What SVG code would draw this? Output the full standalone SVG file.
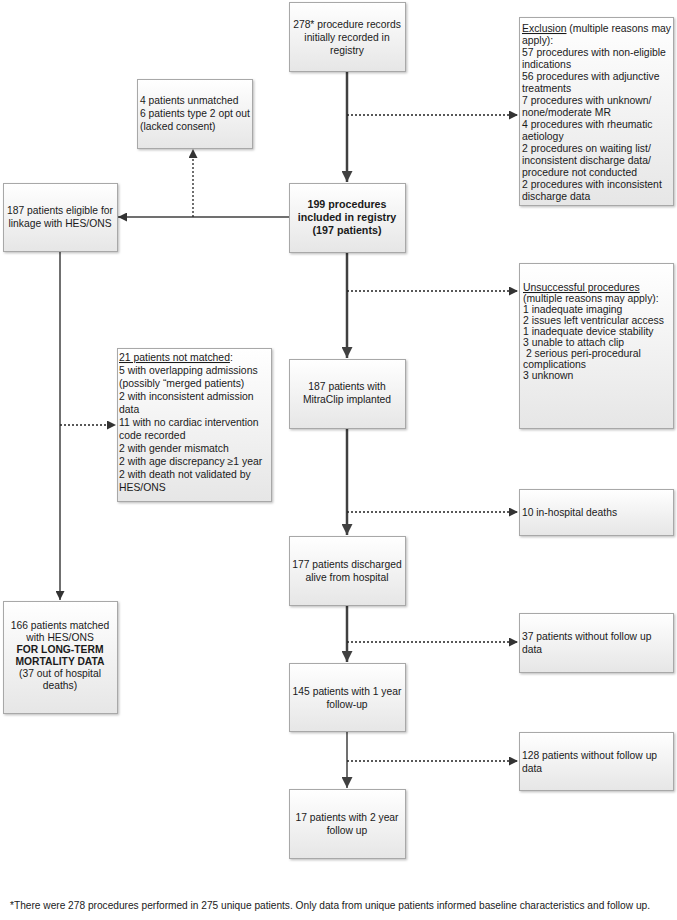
<svg xmlns="http://www.w3.org/2000/svg" width="677" height="920" viewBox="0 0 677 920">
<defs>
<linearGradient id="g" x1="0" y1="0" x2="0" y2="1">
<stop offset="0" stop-color="#ffffff"/>
<stop offset="1" stop-color="#e6e6e6"/>
</linearGradient>
<filter id="sh" x="-10%" y="-10%" width="130%" height="130%">
<feDropShadow dx="1.2" dy="1.2" stdDeviation="0.8" flood-color="#000" flood-opacity="0.25"/>
</filter>
<marker id="ah" viewBox="0 0 10 10" refX="10" refY="5" markerWidth="9" markerHeight="9" markerUnits="userSpaceOnUse" orient="auto">
<path d="M0,0 L10,5 L0,10 z" fill="#333"/>
</marker>
<marker id="ah2" viewBox="0 0 10 10" refX="10" refY="5" markerWidth="11" markerHeight="11" markerUnits="userSpaceOnUse" orient="auto">
<path d="M0,0 L10,5 L0,10 z" fill="#404040"/>
</marker>
<style>
.box{fill:url(#g);stroke:#a8a8a8;stroke-width:1;filter:url(#sh);}
text{font-family:"Liberation Sans",Arial,sans-serif;font-size:10.3px;fill:#1a1a1a;}
.s{font-size:10.4px;}
.c{text-anchor:middle;}
.b{font-weight:bold;}
.b2{font-weight:bold;font-size:10.7px;}
.u{text-decoration:underline;}
.main{stroke:#404040;stroke-width:2.5;fill:none;}
.thin{stroke:#404040;stroke-width:1.5;fill:none;}
.dash{stroke:#222;stroke-width:1.3;stroke-dasharray:2,2;fill:none;}
</style>
</defs>

<g id="connectors">
<line class="main" x1="347" y1="71" x2="347" y2="182" marker-end="url(#ah2)"/>
<line class="dash" x1="347" y1="115" x2="518" y2="115" marker-end="url(#ah)"/>
<line class="thin" x1="289" y1="217" x2="118" y2="217" marker-end="url(#ah)"/>
<line class="dash" x1="193" y1="217" x2="193" y2="149" marker-end="url(#ah)"/>
<line class="main" x1="347" y1="252" x2="347" y2="358" marker-end="url(#ah2)"/>
<line class="dash" x1="347" y1="291" x2="518" y2="291" marker-end="url(#ah)"/>
<line class="thin" x1="60" y1="251" x2="60" y2="600" marker-end="url(#ah)"/>
<line class="dash" x1="60" y1="425" x2="116" y2="425" marker-end="url(#ah)"/>
<line class="main" x1="347" y1="428" x2="347" y2="535" marker-end="url(#ah2)"/>
<line class="dash" x1="347" y1="512" x2="518" y2="512" marker-end="url(#ah)"/>
<line class="main" x1="347" y1="605" x2="347" y2="662" marker-end="url(#ah2)"/>
<line class="dash" x1="347" y1="642" x2="518" y2="642" marker-end="url(#ah)"/>
<line class="thin" x1="347" y1="731" x2="347" y2="788" marker-end="url(#ah2)"/>
<line class="dash" x1="347" y1="761" x2="518" y2="761" marker-end="url(#ah)"/>
</g>

<g id="n-top">
<rect class="box" x="289.5" y="2.5" width="116" height="69"/>
<text class="c" x="347" y="28">278* procedure records</text>
<text class="c" x="347" y="41">initially recorded in</text>
<text class="c" x="347" y="54">registry</text>
</g>

<g id="n-exclusion">
<rect class="box" x="519.5" y="17.5" width="154" height="188"/>
<text class="s" x="522" y="32"><tspan class="u">Exclusion</tspan> (multiple reasons may</text>
<text class="s" x="522" y="44">apply):</text>
<text class="s" x="522" y="56">57 procedures with non-eligible</text>
<text class="s" x="522" y="68">indications</text>
<text class="s" x="522" y="80">56 procedures with adjunctive</text>
<text class="s" x="522" y="92">treatments</text>
<text class="s" x="522" y="104">7 procedures with unknown/</text>
<text class="s" x="522" y="116">none/moderate MR</text>
<text class="s" x="522" y="128">4 procedures with rheumatic</text>
<text class="s" x="522" y="140">aetiology</text>
<text class="s" x="522" y="152">2 procedures on waiting list/</text>
<text class="s" x="522" y="164">inconsistent discharge data/</text>
<text class="s" x="522" y="176">procedure not conducted</text>
<text class="s" x="522" y="188">2 procedures with inconsistent</text>
<text class="s" x="522" y="200">discharge data</text>
</g>

<g id="n-unmatched">
<rect class="box" x="137.5" y="79.5" width="115" height="69"/>
<text x="140" y="104">4  patients unmatched</text>
<text x="140" y="117">6 patients type 2 opt out</text>
<text x="140" y="130">(lacked consent)</text>
</g>

<g id="n-eligible">
<rect class="box" x="3.5" y="183.5" width="114" height="68"/>
<text class="c" x="60" y="214">187 patients eligible for</text>
<text class="c" x="60" y="227">linkage with HES/ONS</text>
</g>

<g id="n-199">
<rect class="box" x="289.5" y="183.5" width="116" height="69"/>
<text class="c b2" x="347" y="208">199 procedures</text>
<text class="c b2" x="347" y="221">included in registry</text>
<text class="c b2" x="347" y="234">(197 patients)</text>
</g>

<g id="n-unsuccessful">
<rect class="box" x="519.5" y="263.5" width="154" height="165"/>
<text class="s u" x="523" y="291">Unsuccessful procedures</text>
<text class="s" x="523" y="302">(multiple reasons may apply):</text>
<text class="s" x="523" y="313">1 inadequate imaging</text>
<text class="s" x="523" y="324">2 issues left ventricular access</text>
<text class="s" x="523" y="335">1 inadequate device stability</text>
<text class="s" x="523" y="346">3 unable to attach clip</text>
<text class="s" x="523" y="357" xml:space="preserve"> 2 serious peri-procedural</text>
<text class="s" x="523" y="368">complications</text>
<text class="s" x="523" y="379">3 unknown</text>
</g>

<g id="n-21">
<rect class="box" x="117.5" y="348.5" width="154" height="153"/>
<text class="s" x="119" y="361"><tspan class="u">21 patients not matched</tspan>:</text>
<text class="s" x="119" y="374">5 with overlapping admissions</text>
<text class="s" x="119" y="387">(possibly “merged patients)</text>
<text class="s" x="119" y="400">2 with inconsistent admission</text>
<text class="s" x="119" y="413">data</text>
<text class="s" x="119" y="426">11 with no cardiac intervention</text>
<text class="s" x="119" y="439">code recorded</text>
<text class="s" x="119" y="452">2 with gender mismatch</text>
<text class="s" x="119" y="465">2 with age discrepancy ≥1 year</text>
<text class="s" x="119" y="478">2 with death not validated by</text>
<text class="s" x="119" y="491">HES/ONS</text>
</g>

<g id="n-mitraclip">
<rect class="box" x="289.5" y="359.5" width="116" height="69"/>
<text class="c" x="347" y="390">187 patients with</text>
<text class="c" x="347" y="403">MitraClip implanted</text>
</g>

<g id="n-deaths">
<rect class="box" x="519.5" y="489.5" width="154" height="46"/>
<text x="522" y="516">10 in-hospital deaths</text>
</g>

<g id="n-177">
<rect class="box" x="289.5" y="536.5" width="116" height="69"/>
<text class="c" x="347" y="568">177 patients discharged</text>
<text class="c" x="347" y="581">alive from hospital</text>
</g>

<g id="n-37">
<rect class="box" x="519.5" y="613.5" width="154" height="59"/>
<text x="522" y="640">37 patients without follow up</text>
<text x="522" y="653">data</text>
</g>

<g id="n-145">
<rect class="box" x="289.5" y="663.5" width="116" height="68"/>
<text class="c" x="347" y="695">145 patients with 1 year</text>
<text class="c" x="347" y="708">follow-up</text>
</g>

<g id="n-128">
<rect class="box" x="519.5" y="732.5" width="154" height="58"/>
<text x="522" y="759">128 patients without follow up</text>
<text x="522" y="772">data</text>
</g>

<g id="n-17">
<rect class="box" x="289.5" y="789.5" width="116" height="69"/>
<text class="c" x="347" y="821">17 patients with 2 year</text>
<text class="c" x="347" y="834">follow up</text>
</g>

<g id="n-166">
<rect class="box" x="3.5" y="601.5" width="114" height="112"/>
<text class="c" x="60" y="629">166 patients matched</text>
<text class="c" x="60" y="641">with HES/ONS</text>
<text class="c b" x="60" y="653">FOR LONG-TERM</text>
<text class="c b" x="60" y="665">MORTALITY DATA</text>
<text class="c" x="60" y="677">(37 out of hospital</text>
<text class="c" x="60" y="689">deaths)</text>
</g>

<g id="footnote">
<text x="10" y="909" textLength="640" lengthAdjust="spacingAndGlyphs">*There were 278 procedures performed in 275 unique patients. Only data from unique patients informed baseline characteristics and follow up.</text>
</g>
</svg>
